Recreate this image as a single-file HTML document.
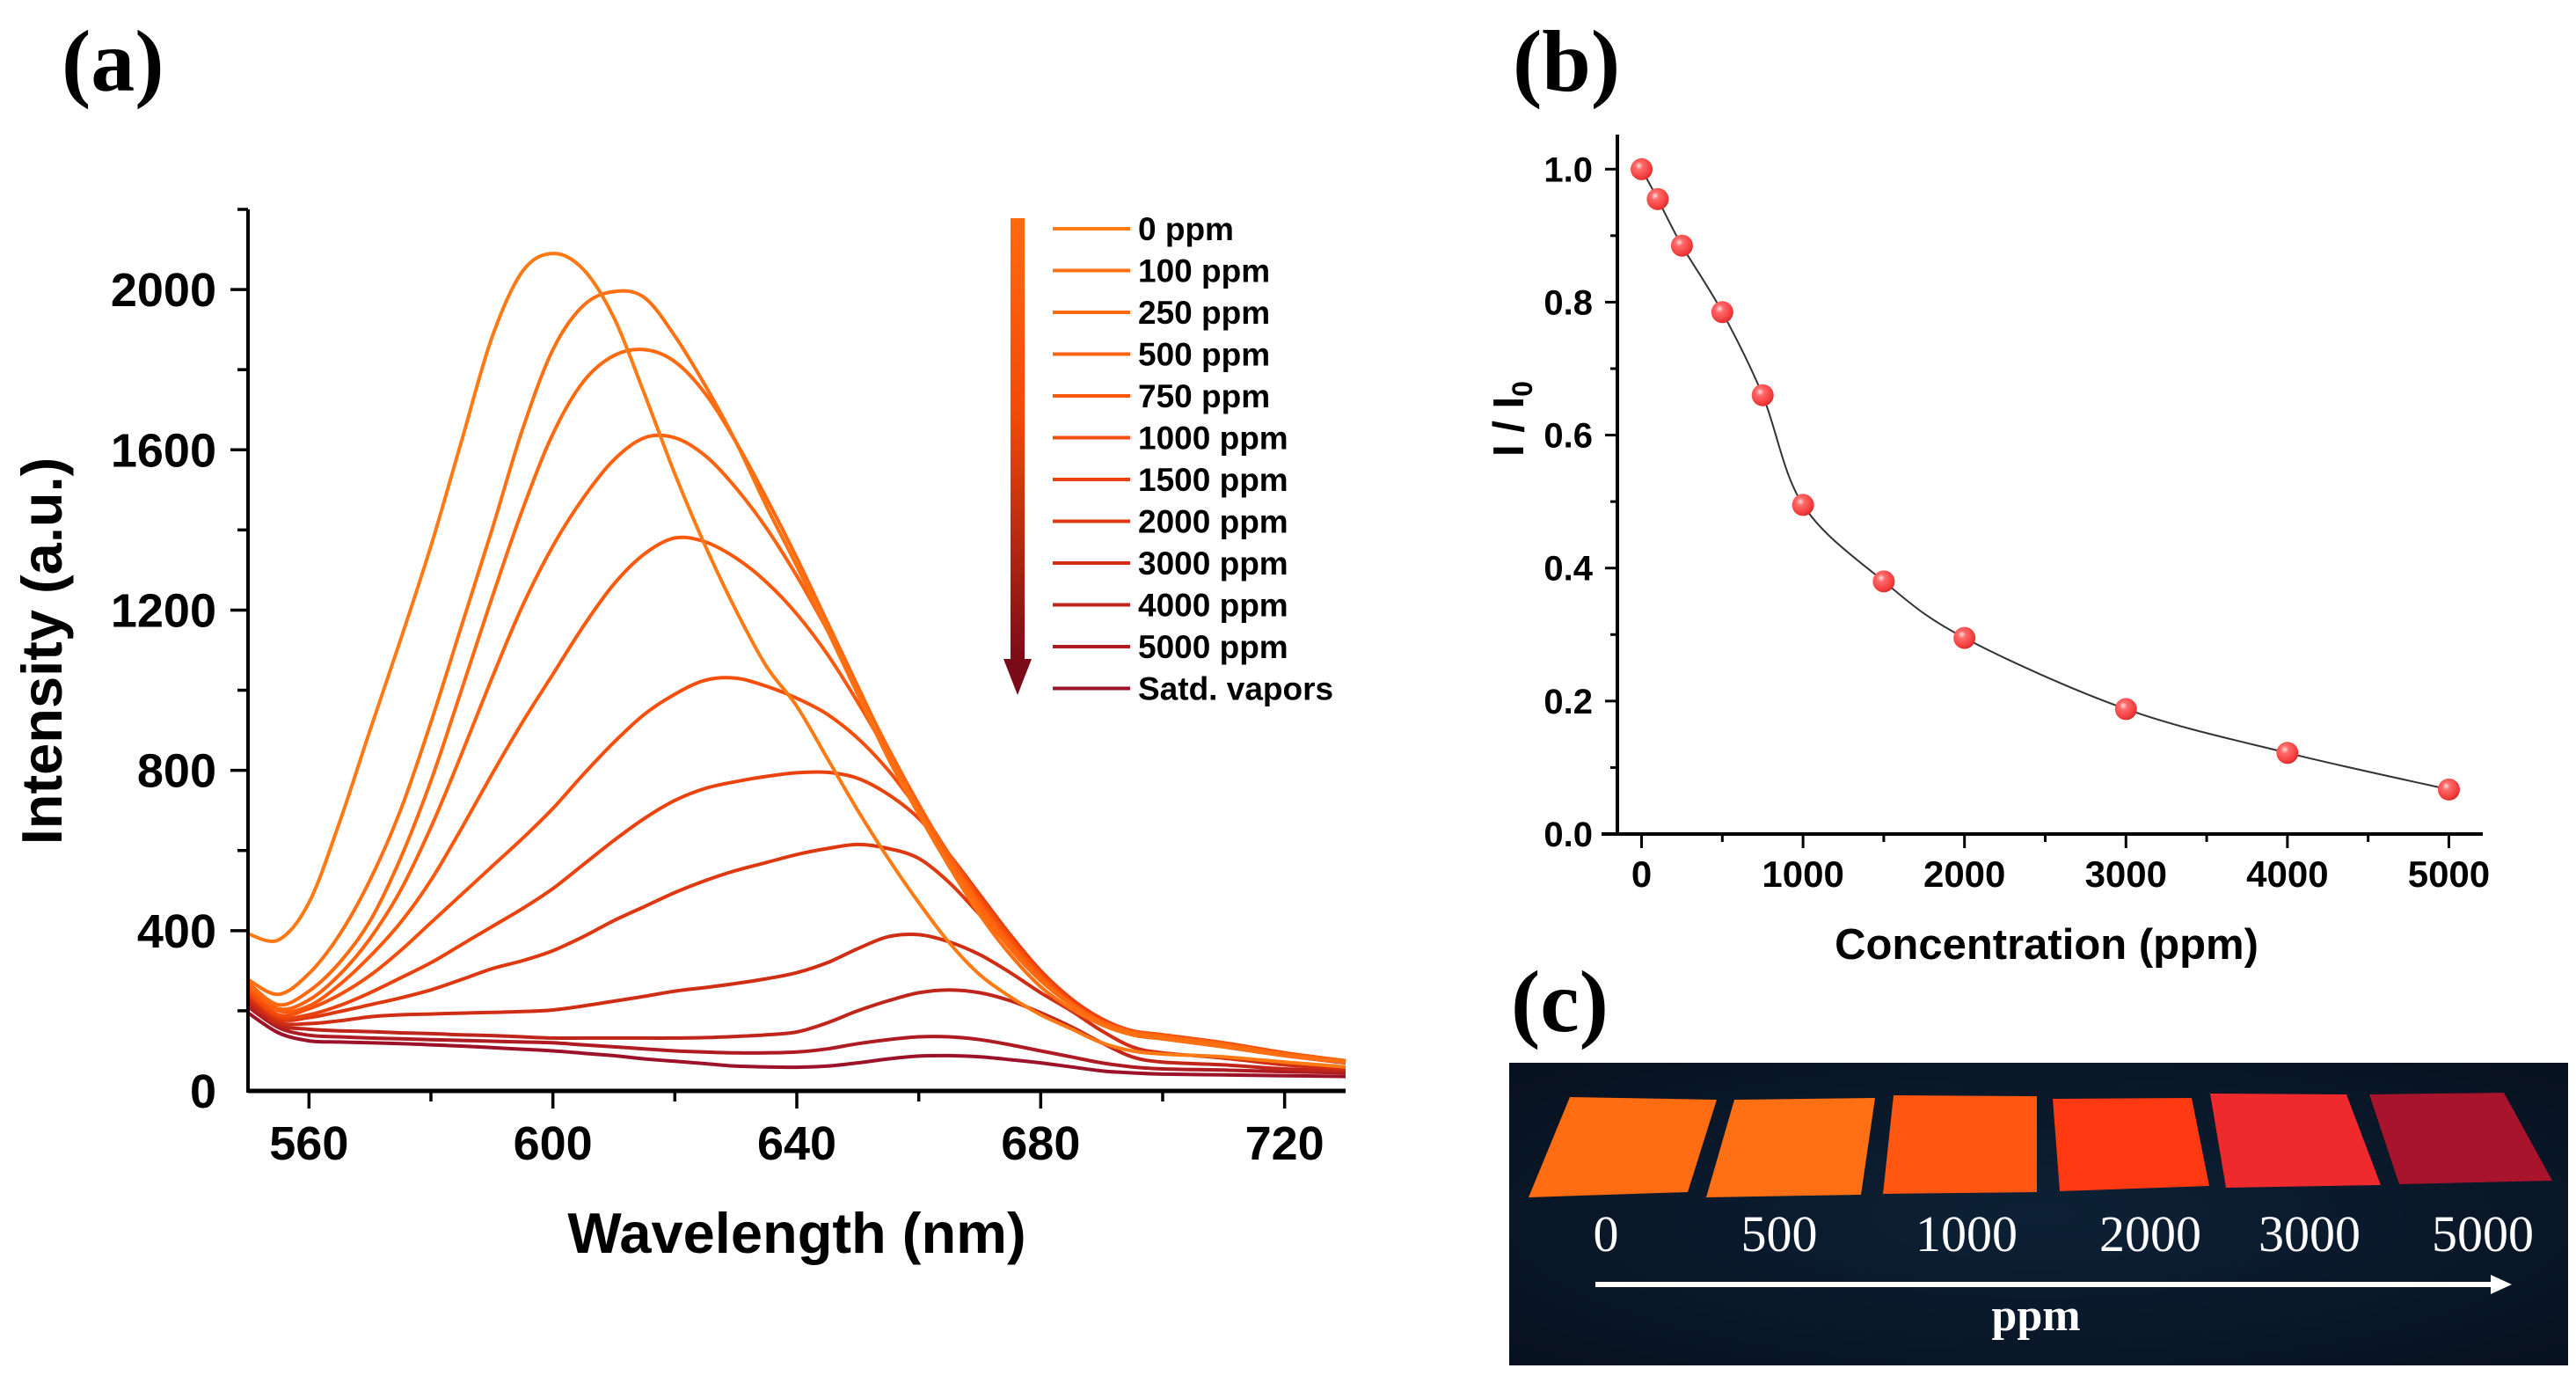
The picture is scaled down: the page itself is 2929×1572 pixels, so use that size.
<!DOCTYPE html>
<html><head><meta charset="utf-8"><style>
html,body{margin:0;padding:0;background:#fff;}
svg{display:block;}
text{font-family:"Liberation Sans",Arial,sans-serif;}
text.serif,.serif text{font-family:"Liberation Serif","Times New Roman",serif;}
</style></head>
<body>
<svg id="fig" width="2929" height="1572" viewBox="0 0 2929 1572" xmlns="http://www.w3.org/2000/svg">
<defs>
<linearGradient id="arrowGrad" x1="0" y1="0" x2="0" y2="1">
<stop offset="0" stop-color="#ff6a10"/><stop offset="0.45" stop-color="#f04a08"/><stop offset="1" stop-color="#7a0a18"/>
</linearGradient>
<radialGradient id="ball" cx="0.38" cy="0.35" r="0.7">
<stop offset="0" stop-color="#ffe0e0"/><stop offset="0.25" stop-color="#ff6a6a"/><stop offset="0.8" stop-color="#f23a3a"/><stop offset="1" stop-color="#d02828"/>
</radialGradient>
<radialGradient id="photoBg" cx="0.5" cy="0.5" r="0.7">
<stop offset="0" stop-color="#0d2136"/><stop offset="1" stop-color="#07111f"/>
</radialGradient>
</defs>

<text class="serif" x="70" y="103" font-size="100" font-weight="bold" fill="#000">(a)</text>
<text class="serif" x="1720" y="103" font-size="100" font-weight="bold" fill="#000">(b)</text>
<text class="serif" x="1718" y="1172" font-size="100" font-weight="bold" fill="#000">(c)</text>

<g id="chartA"></g>
<g id="chartB"></g>

<g>
<rect x="1716" y="1208" width="1204" height="344" fill="url(#photoBg)"/>
<polygon points="1785,1247 1952,1250 1919,1355 1738,1361" fill="#ff6c12"/>
<polygon points="1972,1250 2132,1248 2116,1358 1940,1361" fill="#ff7014"/>
<polygon points="2153,1245 2316,1246 2316,1355 2141,1357" fill="#ff5612"/>
<polygon points="2334,1249 2492,1248 2512,1348 2342,1354" fill="#ff3a12"/>
<polygon points="2513,1243 2668,1244 2707,1347 2531,1350" fill="#ee2a2c"/>
<polygon points="2694,1244 2847,1242 2902,1342 2728,1346" fill="#a8142c"/>
<g class="serif" font-size="58" fill="#fff" text-anchor="middle">
<text x="1826" y="1422">0</text>
<text x="2023" y="1422">500</text>
<text x="2236" y="1422">1000</text>
<text x="2445" y="1422">2000</text>
<text x="2626" y="1422">3000</text>
<text x="2823" y="1422">5000</text>
</g>
<line x1="1814" y1="1460" x2="2835" y2="1460" stroke="#fff" stroke-width="6"/>
<polygon points="2832,1449 2856,1460 2832,1471" fill="#fff"/>
<text class="serif" x="2315" y="1512" font-size="52" font-weight="bold" fill="#fff" text-anchor="middle">ppm</text>
</g>

<script>
var wavelengths = [550,555,560,565,570,575,580,585,590,595,600,605,610,615,620,625,630,635,640,645,650,655,660,665,670,675,680,685,690,695,700,710,720,730];
var seriesLabels = ["0 ppm","100 ppm","250 ppm","500 ppm","750 ppm","1000 ppm","1500 ppm","2000 ppm","3000 ppm","4000 ppm","5000 ppm","Satd. vapors"];
var s0 = [392,377,470,670,900,1125,1360,1621,1880,2045,2090,2050,1930,1740,1540,1360,1200,1060,960,830,700,580,470,370,290,235,190,155,120,100,92,85,72,60];
var s100 = [278,241,293,390,526,700,920,1160,1400,1650,1850,1960,1995,1980,1884,1760,1620,1460,1310,1150,990,830,690,560,440,340,260,205,165,140,130,110,88,72];
var s250 = [270,215,249,320,424,580,774,1000,1230,1450,1640,1770,1835,1850,1820,1740,1620,1480,1330,1170,1010,850,700,570,455,355,275,215,170,145,135,115,92,75];
var s500 = [265,205,227,290,380,500,658,840,1030,1210,1360,1480,1575,1630,1630,1585,1505,1405,1285,1150,1005,855,715,585,465,365,282,218,172,147,137,117,92,75];
var s750 = [260,200,212,265,336,420,526,655,790,920,1040,1160,1265,1340,1380,1370,1330,1270,1190,1090,970,840,710,590,470,370,285,218,172,147,137,117,92,72];
var s1000 = [250,190,205,240,288,350,420,490,560,630,705,790,870,940,990,1025,1030,1010,980,940,880,800,700,590,480,380,292,222,175,150,140,120,95,75];
var s1500 = [245,185,190,213,245,282,320,365,410,455,505,565,625,680,725,755,772,785,794,795,780,740,680,590,490,390,300,230,180,150,140,120,95,75];
var s2000 = [240,180,183,198,215,232,252,278,305,325,350,385,425,460,495,525,550,570,590,605,615,605,580,520,440,360,285,220,170,140,130,110,88,70];
var s3000 = [230,172,168,175,185,190,192,194,196,198,202,212,224,236,249,258,268,280,295,320,355,385,390,372,340,295,245,200,150,110,95,82,65,55];
var s4000 = [220,165,154,150,148,145,143,140,138,135,132,132,132,132,132,133,136,140,147,170,200,225,245,252,245,225,195,160,120,85,72,65,55,50];
var s5000 = [210,158,139,135,132,130,128,126,124,122,120,115,110,105,100,97,95,95,97,105,118,128,135,135,128,115,100,85,70,60,55,52,48,45];
var sSatd = [195,145,125,122,120,118,115,112,108,104,100,94,88,80,74,68,62,60,59,62,70,80,87,88,85,78,70,60,50,45,42,40,38,36];
var xTicksA = [560,600,640,680,720];
var yTicksA = [0,400,800,1200,1600,2000];

var concentrations = [0,100,250,500,750,1000,1500,2000,3000,4000,5000];
var ratios = [1.0,0.955,0.885,0.785,0.66,0.495,0.38,0.295,0.188,0.122,0.067];
var xTicksB = [0,1000,2000,3000,4000,5000];
var yTicksB = ["0.0","0.2","0.4","0.6","0.8","1.0"];

var NS = "http://www.w3.org/2000/svg";
function mk(tag, attrs, parent) {
  var e = document.createElementNS(NS, tag);
  for (var k in attrs) e.setAttribute(k, attrs[k]);
  parent.appendChild(e);
  return e;
}
function smoothPath(pts) {
  var d = "M" + pts[0][0].toFixed(1) + "," + pts[0][1].toFixed(1);
  for (var i = 0; i < pts.length - 1; i++) {
    var p0 = pts[i - 1] || pts[i], p1 = pts[i], p2 = pts[i + 1], p3 = pts[i + 2] || p2;
    var c1x = p1[0] + (p2[0] - p0[0]) / 6, c1y = p1[1] + (p2[1] - p0[1]) / 6;
    var c2x = p2[0] - (p3[0] - p1[0]) / 6, c2y = p2[1] - (p3[1] - p1[1]) / 6;
    d += " C" + c1x.toFixed(1) + "," + c1y.toFixed(1) + " " + c2x.toFixed(1) + "," + c2y.toFixed(1) + " " + p2[0].toFixed(1) + "," + p2[1].toFixed(1);
  }
  return d;
}

(function () {
  var g = document.getElementById("chartA");
  var X0 = 282, X1 = 1530, Y0 = 1240, Y1 = 238;
  var xMin = 550, xMax = 730, yMin = 0, yMax = 2200;
  function sx(v) { return X0 + (v - xMin) / (xMax - xMin) * (X1 - X0); }
  function sy(v) { return Y0 - (v - yMin) / (yMax - yMin) * (Y0 - Y1); }
  var allSeries = [s0, s100, s250, s500, s750, s1000, s1500, s2000, s3000, s4000, s5000, sSatd];
  var colors = ["#ff7a14","#ff7012","#ff6a10","#ff620e","#fb580c","#f54e0c","#ea420e","#de3810","#cf2e14","#bf251a","#ae1b22","#9c1228"];
  for (var i = allSeries.length - 1; i >= 0; i--) {
    var pts = [];
    for (var j = 0; j < wavelengths.length; j++) pts.push([sx(wavelengths[j]), sy(allSeries[i][j])]);
    var p = mk("path", {d: smoothPath(pts), fill: "none", stroke: colors[i], "stroke-width": 4, "stroke-linejoin": "round"}, g);
    
    
  }
  var ax = mk("line", {x1: X0, y1: Y0, x2: X1, y2: Y0, stroke: "#000", "stroke-width": 5}, g);
  
  
  var ay = mk("line", {x1: X0, y1: Y0 + 2, x2: X0, y2: Y1, stroke: "#000", "stroke-width": 4}, g);
  
  
  for (var v = 560; v <= 720; v += 20) {
    var major = xTicksA.indexOf(v) >= 0;
    var t = mk("line", {x1: sx(v), y1: Y0, x2: sx(v), y2: Y0 + (major ? 20 : 12), stroke: "#000", "stroke-width": 3.5}, g);
    
    
  }
  xTicksA.forEach(function (v) {
    var t = mk("text", {x: sx(v), y: 1318, "font-size": 54, "font-weight": "bold", "text-anchor": "middle"}, g);
    t.textContent = v;
    
    
  });
  for (var v2 = 200; v2 <= 2200; v2 += 200) {
    var maj = yTicksA.indexOf(v2) >= 0;
    var t2 = mk("line", {x1: X0, y1: sy(v2), x2: X0 - (maj ? 20 : 12), y2: sy(v2), stroke: "#000", "stroke-width": 3.5}, g);
    
    
  }
  yTicksA.forEach(function (v) {
    var t = mk("text", {x: 246, y: sy(v) + 19, "font-size": 54, "font-weight": "bold", "text-anchor": "end"}, g);
    t.textContent = v;
    
    
  });
  var xt = mk("text", {x: 906, y: 1424, "font-size": 65, "font-weight": "bold", "text-anchor": "middle"}, g);
  xt.textContent = "Wavelength (nm)";
  
  
  var yt = mk("text", {x: 0, y: 0, "font-size": 65, "font-weight": "bold", "text-anchor": "middle", transform: "translate(70,740) rotate(-90)"}, g);
  yt.textContent = "Intensity (a.u.)";
  
  
  var leg = mk("g", {}, g);
  
  
  var sh = mk("rect", {x: 1149, y: 248, width: 16, height: 505, fill: "url(#arrowGrad)"}, leg);
  
  
  var hd = mk("polygon", {points: "1141,749 1173,749 1157,790", fill: "#7a0a18"}, leg);
  
  
  for (var k = 0; k < seriesLabels.length; k++) {
    var yy = 260 + k * 47.5;
    var ln = mk("line", {x1: 1197, y1: yy, x2: 1285, y2: yy, stroke: colors[k], "stroke-width": 4}, leg);
    
    
    var tx = mk("text", {x: 1294, y: yy + 13, "font-size": 37, "font-weight": "bold"}, leg);
    tx.textContent = seriesLabels[k];
    
    
  }
})();

(function () {
  var g = document.getElementById("chartB");
  var X0 = 1839, X1 = 2823, Y0 = 948, Y1 = 153;
  var xMin = -150, xMax = 5210, yMin = 0, yMax = 1.052;
  function sx(v) { return X0 + (v - xMin) / (xMax - xMin) * (X1 - X0); }
  function sy(v) { return Y0 - (v - yMin) / (yMax - yMin) * (Y0 - Y1); }
  var pts = [];
  for (var i = 0; i < concentrations.length; i++) pts.push([sx(concentrations[i]), sy(ratios[i])]);
  var cl = mk("path", {d: smoothPath(pts), fill: "none", stroke: "#333", "stroke-width": 2}, g);
  
  
  for (var j = 0; j < pts.length; j++) {
    var c = mk("circle", {cx: pts[j][0], cy: pts[j][1], r: 12.5, fill: "url(#ball)"}, g);
    
    
  }
  var ax = mk("line", {x1: X0 - 18, y1: Y0, x2: X1, y2: Y0, stroke: "#000", "stroke-width": 4}, g);
  
  
  var ay = mk("line", {x1: X0, y1: Y0, x2: X0, y2: Y1, stroke: "#000", "stroke-width": 4}, g);
  
  
  for (var v = 0; v <= 5000; v += 500) {
    var major = xTicksB.indexOf(v) >= 0;
    var t = mk("line", {x1: sx(v), y1: Y0, x2: sx(v), y2: Y0 + (major ? 16 : 9), stroke: "#000", "stroke-width": 3}, g);
    
    
  }
  xTicksB.forEach(function (v) {
    var t = mk("text", {x: sx(v), y: 1008, "font-size": 42, "font-weight": "bold", "text-anchor": "middle"}, g);
    t.textContent = v;
    
    
  });
  for (var q = 1; q <= 10; q++) {
    var vv = q / 10;
    var mj = (q % 2 === 0);
    var t2 = mk("line", {x1: X0, y1: sy(vv), x2: X0 - (mj ? 14 : 8), y2: sy(vv), stroke: "#000", "stroke-width": 3}, g);
    
    
  }
  yTicksB.forEach(function (s) {
    var t = mk("text", {x: 1811, y: sy(parseFloat(s)) + 14, "font-size": 40, "font-weight": "bold", "text-anchor": "end"}, g);
    t.textContent = s;
    
    
  });
  var xt = mk("text", {x: 2327, y: 1090, "font-size": 49, "font-weight": "bold", "text-anchor": "middle"}, g);
  xt.textContent = "Concentration (ppm)";
  
  
  var yt = mk("text", {x: 0, y: 0, "font-size": 49, "font-weight": "bold", "text-anchor": "middle", transform: "translate(1732,476) rotate(-90)"}, g);
  
  
  var ts1 = mk("tspan", {}, yt); ts1.textContent = "I / I";
  var ts2 = mk("tspan", {"font-size": 32, dy: 10}, yt); ts2.textContent = "0";
})();
</script>
</svg>
</body></html>
